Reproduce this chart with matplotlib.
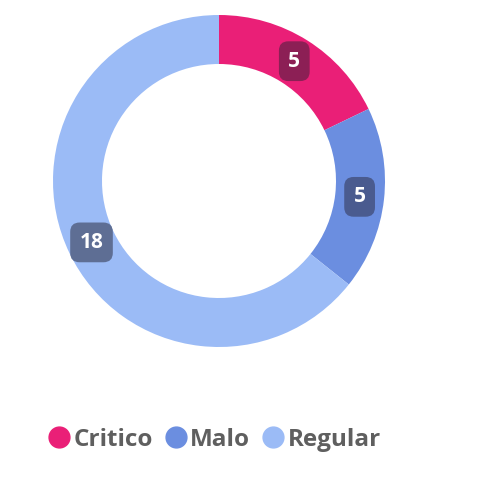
import numpy as np
import matplotlib
matplotlib.use("Agg")
import matplotlib.pyplot as plt
from matplotlib.lines import Line2D

# chart data
categories = ["Critico", "Malo", "Regular"]
values = [5, 5, 18]
colors = ["#ea1f77", "#6b8ee0", "#9bbbf6"]
label_colors = ["#8c1f55", "#4a5b8f", "#5e6e94"]

plt.rcParams['font.family'] = ['Open Sans', 'DejaVu Sans']

W, H = 482, 479
fig = plt.figure(figsize=(W / 100, H / 100), dpi=100)
ax = fig.add_axes([0, 0, 1, 1])

# pixel-like coordinates, y up
cx, cy = 219, H - 181
r_out = 166
ring = 49

wedges, _ = ax.pie(values, center=(cx, cy), radius=r_out, startangle=90,
                   counterclock=False, colors=colors,
                   wedgeprops=dict(width=ring, linewidth=0))

r_lab = r_out - ring / 2
for w, v, lc in zip(wedges, values, label_colors):
    mid = np.deg2rad((w.theta1 + w.theta2) / 2)
    x = cx + r_lab * np.cos(mid)
    y = cy + r_lab * np.sin(mid)
    ax.text(x, y, str(v), ha='center', va='center', color='white',
            fontsize=15, fontweight='bold',
            bbox=dict(boxstyle='round,pad=0.45,rounding_size=0.45',
                      fc=lc, ec='none'))

ax.set_xlim(0, W)
ax.set_ylim(0, H)
ax.set_aspect('equal')
ax.axis('off')

handles = [Line2D([], [], marker='o', linestyle='', markersize=15,
                  markerfacecolor=c, markeredgecolor=c) for c in colors]
leg = ax.legend(handles, categories, loc='center', ncol=3,
                bbox_to_anchor=(215 / W, 1 - 440 / H),
                bbox_transform=fig.transFigure, frameon=False,
                handlelength=0.8, handletextpad=0.2, columnspacing=0.55,
                prop=dict(size=17.5, weight='bold'))
for t in leg.get_texts():
    t.set_color('#5f5f5f')

fig.savefig("out.png", dpi=100)
